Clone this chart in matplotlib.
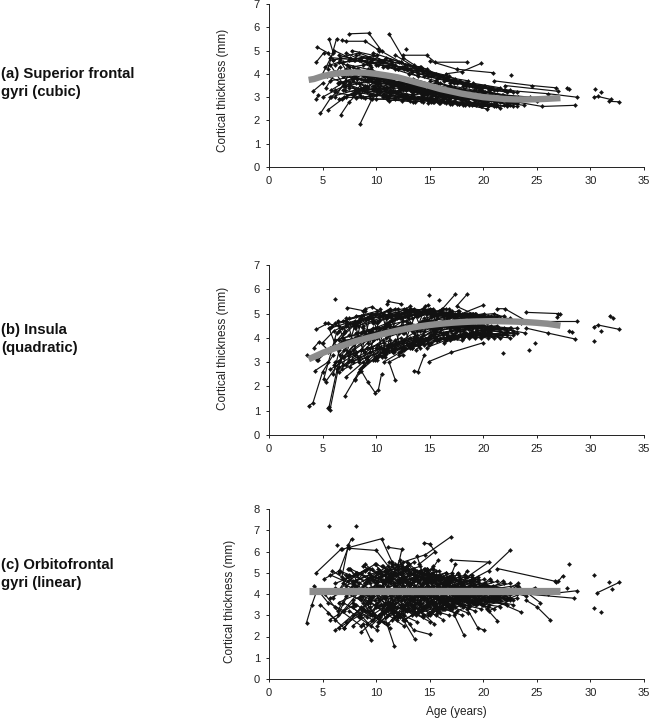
import matplotlib
matplotlib.use("Agg")
import matplotlib.pyplot as plt

plt.rcParams['font.family'] = ['Liberation Sans', 'DejaVu Sans']

panel_titles = ["(a) Superior frontal\ngyri (cubic)", "(b) Insula\n(quadratic)", "(c) Orbitofrontal\ngyri (linear)"]
y_label = "Cortical thickness (mm)"
x_label = "Age (years)"
x_ticks = [0, 5, 10, 15, 20, 25, 30, 35]

# ---------- (a) superior frontal: one row per subject ----------
sup_ages = [
 [7.5,9.3,10.5],[11.2,12.5,13.5],[5.6,6.0,5.0],[6.3,5.5],[6.8,7.2,9.0,10.3],[4.5,5.5,6.0],[4.4,5.1],[12.8],
 [12.5,14.7,15.5,18.5],[19.8,18.0,16.5],[15.0,17.5,20.9],[22.6],[21.0,24.5,26.8],[27.8,28.0],[27.0,22.0],
 [28.7,26.0,22.0],[28.6,25.5,23.0],[20.3,17.0,13.0],[30.4],[31.0],[30.3,30.7,31.9],[31.7,32.7],
 [8.5,9.6,10.0],[4.8,5.8,7.0],[6.7,7.5,9.0],[5.5,6.8,8.0],[4.1,5.0],[4.4,4.6],
 [5.2,6.5,8.2],[5.8,7.2,9.1],[6.1,7.9,10.2],[6.6,8.4,10.6],[7.0,8.8,11.2],[7.3,9.2,11.5],[7.7,9.7,12.0],
 [8.1,10.1,12.4],[8.6,10.5,12.9],[9.0,11.0,13.4],[9.4,11.5,13.9],[9.8,11.9,14.3],[10.2,12.3,14.7],
 [10.6,12.7,15.1],[11.0,13.1,15.6],[11.4,13.5,16.0],[11.8,13.9,16.4],[12.2,14.3,16.8],[12.6,14.8,17.3],
 [13.0,15.2,17.7],[13.4,15.6,18.1],[13.8,16.0,18.6],[14.2,16.5,19.0],[14.6,16.9,19.4],[15.0,17.3,19.9],
 [15.5,17.8,20.3],[16.0,18.2,20.8],[16.4,18.7,21.2],[16.9,19.1,21.7],[17.4,19.6,22.2],[17.9,20.1,22.7],
 [18.4,20.6,23.2],[19.0,21.2,23.8],[19.6,21.8,24.4],[20.2,22.4,25.0],[5.4,7.0,8.9],[6.0,7.6,9.5],
 [6.4,8.2,10.0],[7.1,8.9,10.9],[7.6,9.4,11.7],[8.3,10.3,12.6],[8.9,10.9,13.2],[9.5,11.6,13.7],[10.1,12.1,14.4],
 [10.8,12.9,15.3],[11.6,13.7,16.2],[12.3,14.5,17.0],[13.2,15.3,17.9],[14.0,16.2,18.7],[14.9,17.1,19.6],
 [10.4,12.5,14.9],[11.3,13.3,15.8],[12.0,14.1,16.6],[12.8,15.0,17.5],[13.6,15.8,18.3],[14.4,16.7,19.2],
 [15.2,17.5,20.0],[16.2,18.4,21.0],[9.2,11.3,13.3],[9.9,11.8,14.1],[5.0,6.2,7.6],[6.9,8.5,9.9],
 # denser part under the fitted curve and steeper early visits
 [5.3,6.6],[5.7,7.0],[6.2,7.5],[6.6,7.8],[7.1,8.3],[7.5,8.6],[8.0,9.2],[8.5,9.8],[9.1,10.4],[9.6,10.9],
 [10.2,11.8],[10.7,12.2],[11.2,12.8],[11.6,13.2],[12.1,13.8],[12.5,14.2],[13.0,14.7],[13.4,15.1],[13.9,15.6],[14.3,16.0],
 [14.8,16.5],[15.2,16.9],[15.7,17.4],[16.1,17.8],[16.6,18.3],[11.4,12.9],[12.2,13.7],[12.9,14.4],[13.7,15.2],[14.5,16.0],
 [15.3,16.8],[16.1,17.6],[16.9,18.4],[17.7,19.2],[18.5,20.0],
]
sup_values = [
 [5.72,5.75,5.0],[5.72,4.7,4.4],[5.5,4.9,4.0],[5.5,4.2],[5.45,5.4,5.4,5.0],[5.15,4.9,4.6],[4.5,4.9],[5.05],
 [4.8,4.8,4.5,4.5],[4.45,4.1,4.0],[4.55,4.2,4.05],[3.95],[3.7,3.5,3.4],[3.4,3.33],[3.25,3.5],
 [3.0,3.15,3.3],[2.65,2.6,2.8],[2.5,2.8,3.0],[3.35],[3.2],[3.0,3.03,2.9],[2.82,2.8],
 [1.85,2.9,3.1],[2.3,3.0,3.5],[2.25,2.8,3.5],[2.45,2.9,3.2],[3.25,3.6],[2.9,3.1],
 [4.3,4.5,4.2],[3.3,3.7,3.5],[5.0,4.6,4.4],[4.7,4.9,4.5],[3.0,3.4,3.2],[4.4,4.2,3.9],[5.0,4.8,4.2],
 [3.6,3.3,3.1],[4.7,4.5,4.2],[2.95,2.9,2.8],[4.5,4.4,3.9],[3.5,3.2,3.0],[5.05,4.5,4.0],
 [3.1,3.0,2.8],[4.3,4.0,3.7],[3.5,3.3,3.1],[4.8,4.2,3.8],[3.3,3.2,2.9],[4.2,3.9,3.6],
 [3.0,2.9,2.7],[3.8,3.5,3.3],[3.4,3.1,2.8],[4.3,3.8,3.5],[3.2,3.0,2.7],[3.7,3.4,3.2],
 [3.4,3.1,2.8],[3.6,3.3,3.1],[3.0,2.8,2.6],[3.5,3.3,3.1],[3.1,2.9,2.7],[3.3,3.1,2.9],
 [3.5,3.2,3.0],[3.0,2.8,2.65],[3.3,3.1,3.0],[3.2,3.0,2.85],[3.9,3.6,3.3],[4.6,4.7,4.3],
 [3.6,3.8,3.6],[3.5,3.3,3.4],[4.1,3.9,3.6],[3.2,3.4,3.0],[3.9,3.6,3.3],[4.2,3.7,3.5],[3.3,3.5,3.1],
 [3.8,3.5,3.4],[3.4,3.3,2.9],[3.6,3.5,3.0],[3.5,3.2,2.9],[3.5,3.3,3.0],[3.4,3.2,2.95],
 [3.2,3.6,3.3],[3.3,3.1,3.2],[3.6,3.2,3.4],[3.3,3.5,3.1],[3.5,3.6,3.2],[3.1,3.3,3.0],
 [3.3,3.1,2.75],[3.2,3.0,2.7],[3.8,3.1,3.4],[3.4,3.6,3.2],[3.0,3.3,3.6],[3.9,3.1,3.7],
 [3.4,4.3],[4.4,3.5],[3.0,4.0],[4.6,3.7],[3.3,4.2],[4.3,3.4],[3.2,3.9],[4.1,3.3],[3.4,3.8],[3.9,3.3],
 [3.55,3.25],[3.4,3.65],[3.7,3.3],[3.2,3.5],[3.6,3.2],[3.3,3.55],[3.5,3.1],[3.15,3.4],[3.45,3.05],[3.1,3.35],
 [3.35,3.0],[3.05,3.25],[3.25,2.95],[3.0,3.2],[3.15,2.9],[3.75,3.4],[3.65,3.35],[3.55,3.3],[3.45,3.2],[3.35,3.1],
 [3.25,3.05],[3.15,3.0],[3.1,2.9],[3.05,2.85],[2.95,2.8],
]
sup_fit_ages = [3.7, 4.2, 5, 6, 7, 8, 9, 10, 11, 12, 13, 14, 15, 16, 17, 18, 19, 20, 21, 22, 23, 24, 25, 26, 27.2]
sup_fit_values = [3.74, 3.78, 3.9, 4.0, 4.04, 4.06, 4.05, 4.0, 3.93, 3.85, 3.73, 3.6, 3.48, 3.35, 3.25, 3.15, 3.07, 3.0, 2.96, 2.92, 2.9, 2.9, 2.91, 2.93, 2.96]

# short visits between the outlined subjects; each start/end pair of ages is shared by three value rows
band_ages = [
 [5.7,8.0],[6.2,8.6],[6.5,9.1],[6.9,9.6],[7.2,9.4],[7.5,10.1],[7.8,10.4],[8.1,10.7],[8.4,11.1],[8.8,11.3],
 [9.1,11.8],[9.4,12.0],[9.7,12.3],[10.0,12.6],[10.3,12.9],[10.6,13.2],[10.9,13.5],[11.2,13.8],[11.5,14.1],[11.8,14.4],
 [12.1,14.7],[12.4,15.0],[12.7,15.3],[13.0,15.6],[13.3,15.9],[13.6,16.2],[13.9,16.5],[14.2,16.8],[14.5,17.1],[14.8,17.4],
 [15.1,17.7],[15.4,18.0],[15.7,18.3],[16.0,18.6],[16.3,18.9],[16.6,19.2],[16.9,19.5],[17.2,19.8],[17.5,20.1],[17.8,20.4],
 [18.1,20.7],[18.4,21.0],[18.7,21.3],[19.0,21.6],[19.3,21.9],[19.6,22.2],[19.9,22.5],[20.2,22.8],[20.5,23.1],
]
sup_band_hi = [
 [4.7,4.6],[4.4,4.7],[4.8,4.5],[4.5,4.6],[4.9,4.4],[4.6,4.8],[4.3,4.5],[4.8,4.6],[4.6,4.3],[4.4,4.6],
 [4.7,4.4],[4.5,4.2],[4.9,4.5],[4.4,4.3],[4.6,4.4],[4.3,4.2],[4.7,4.3],[4.4,4.1],[4.5,4.3],[4.2,4.1],
 [4.5,4.2],[4.3,4.1],[4.4,4.0],[4.2,4.0],[4.1,3.9],[4.3,3.9],[4.0,3.8],[4.2,3.9],[3.9,3.7],[4.1,3.8],
 [3.9,3.7],[4.0,3.6],[3.8,3.6],[3.9,3.7],[3.7,3.5],[3.8,3.5],[3.6,3.5],[3.7,3.4],[3.6,3.5],[3.7,3.4],
 [3.5,3.4],[3.6,3.3],[3.5,3.3],[3.6,3.4],[3.4,3.3],[3.5,3.2],[3.4,3.3],[3.5,3.2],[3.3,3.2],
]
sup_band_mid = [
 [3.7,3.9],[4.1,3.8],[3.6,4.0],[3.9,3.7],[4.2,3.9],[3.5,3.8],[3.8,3.6],[4.0,3.8],[3.6,3.7],[3.9,3.6],
 [3.7,3.9],[3.8,3.5],[3.5,3.7],[3.9,3.6],[3.6,3.4],[3.8,3.5],[3.4,3.6],[3.7,3.4],[3.5,3.3],[3.6,3.4],
 [3.3,3.5],[3.5,3.2],[3.4,3.3],[3.5,3.2],[3.2,3.3],[3.4,3.1],[3.3,3.2],[3.4,3.1],[3.1,3.2],[3.3,3.0],
 [3.2,3.1],[3.3,3.0],[3.0,3.1],[3.2,2.95],[3.1,3.0],[3.2,2.9],[3.0,3.0],[3.1,2.85],[3.0,2.95],[3.1,2.9],
 [2.95,2.9],[3.05,2.85],[2.95,2.85],[3.0,2.8],[2.9,2.9],[3.0,2.8],[2.9,2.85],[2.95,2.75],[2.9,2.75],
]
sup_band_lo = [
 [3.0,3.3],[3.2,3.0],[2.9,3.4],[3.3,3.1],[3.0,2.95],[3.4,3.2],[3.1,3.3],[2.95,3.1],[3.3,3.0],[3.0,3.2],
 [3.2,2.9],[3.1,3.0],[3.3,3.1],[2.9,3.0],[3.2,3.1],[3.0,2.85],[3.1,3.0],[2.85,2.95],[3.2,2.95],[3.0,2.8],
 [3.1,2.9],[2.85,3.0],[3.0,2.8],[2.9,2.95],[3.0,2.75],[2.8,2.9],[2.95,2.75],[2.85,2.9],[2.95,2.7],[2.75,2.85],
 [2.9,2.7],[2.8,2.8],[2.85,2.65],[2.75,2.8],[2.8,2.65],[2.85,2.7],[2.7,2.75],[2.8,2.6],[2.7,2.7],[2.75,2.6],
 [2.65,2.7],[2.75,2.6],[2.65,2.65],[2.7,2.55],[2.65,2.65],[2.7,2.6],[2.6,2.65],[2.7,2.6],[2.65,2.6],
]

# ---------- (b) insula ----------
ins_ages = [
 [3.7,4.1,5.0,6.0],[5.5,5.7,6.5,7.0],[5.6,6.5],[6.2],[3.5,4.5],[4.3,5.5],[4.2,4.7,5.5],[4.4,5.5],[5.2,6.5],
 [7.1,8.0,8.5],[8.0,8.6,9.2,9.9,10.2,10.5],[14.9,17.0,20.0],[21.8],[24.3],[24.8],[28.6,26.0,24.0],[28.7,24.0],
 [24.0,27.0],[27.2,26.9],[28.0,28.3],[30.3],[30.3,30.7,32.7],[31.0],[31.8,32.1],[14.9],[15.9],[11.0,11.1,12.3],
 [17.4,16.2],[18.5,17.5,19.0],[20.0,18.0],[21.3,22.0,24.0],[7.3,9.0],[9.0,9.6,11.0],[14.6,14.8,13.0],[13.2,11.0],
 [11.8,11.2,12.5],[13.5,13.9,14.5],
 [4.6,5.8,7.1],[5.0,6.1,7.6],[5.3,6.9,8.3],[5.9,7.2,8.8],[6.3,7.7,9.2],[6.6,8.1,9.7],[7.0,8.5,10.1],[7.4,9.0,10.6],
 [7.8,9.4,11.0],[8.2,9.9,11.5],[8.7,10.3,12.0],[9.1,10.8,12.5],[9.5,11.2,13.0],[9.9,11.7,13.5],[10.3,12.2,14.0],
 [10.7,12.6,14.5],[11.1,13.0,15.0],[11.5,13.5,15.5],[11.9,13.9,16.0],[12.3,14.4,16.5],[12.7,14.8,17.0],
 [13.1,15.3,17.5],[13.5,15.7,18.0],[13.9,16.2,18.5],[14.3,16.6,19.0],[14.7,17.1,19.5],[15.2,17.6,20.0],
 [15.7,18.1,20.6],[16.2,18.6,21.1],[16.8,19.2,21.7],[17.4,19.8,22.3],[18.0,20.4,22.9],[18.7,21.0,23.5],
 [6.1,7.4,9.0],[6.8,8.3,9.8],[7.6,9.2,10.9],[8.4,10.0,11.8],[9.3,11.0,12.7],[10.1,11.9,13.8],[10.9,12.8,14.7],
 [11.7,13.6,15.6],[12.5,14.5,16.6],[13.3,15.4,17.6],[14.1,16.3,18.7],[15.0,17.3,19.7],[16.0,18.3,20.9],
 [17.0,19.4,22.0],[5.5,7.0,8.6],[6.5,7.9,9.5],[7.2,8.8,10.4],[8.0,9.6,11.3],[8.9,10.6,12.3],[9.7,11.4,13.2],
 [10.5,12.4,14.2],[11.3,13.2,15.2],[12.1,14.0,16.1],[12.9,15.0,17.1],[13.7,15.8,18.2],[14.5,16.8,19.2],
 [15.5,17.8,20.3],[16.5,18.9,21.4],[17.7,20.0,22.6],[19.2,21.5,23.9],
 # steep early visits and criss-crossing in the dense part
 [5.1,6.3],[5.6,6.9],[6.0,7.2],[6.4,7.5],[6.8,8.0],[7.2,8.3],[7.6,8.7],[8.0,9.1],[8.4,9.5],[8.8,9.9],
 [9.2,10.4],[9.6,10.8],[10.0,11.2],[10.4,11.6],[10.8,12.0],[11.2,12.4],[11.6,12.8],[12.0,13.3],[12.4,13.7],[12.8,14.1],
 [13.2,14.5],[13.6,14.9],[14.0,15.3],[14.4,15.7],[14.8,16.1],[15.2,16.5],[15.6,16.9],[16.0,17.3],[16.4,17.7],[16.8,18.1],
 [17.2,18.5],[17.6,18.9],[18.0,19.3],[18.4,19.7],[18.8,20.1],
]
ins_values = [
 [1.2,1.32,2.6,3.3],[1.1,1.05,2.8,3.5],[1.15,3.0],[5.58],[3.28,3.1],[2.65,3.0],[3.6,3.85,3.5],[4.35,4.6],[4.6,4.5],
 [1.62,2.3,2.7],[2.25,2.65,2.2,1.75,1.85,2.5],[3.02,3.4,3.8],[3.38],[3.5],[3.8],[3.95,4.2,4.4],[4.7,4.7],
 [5.05,5.0],[5.0,4.85],[4.28,4.25],[3.87],[4.45,4.53,4.35],[4.3],[4.9,4.82],[5.75],[5.55],[5.4,5.5,5.4],
 [5.8,5.2],[5.8,5.3,5.0],[5.35,5.0],[5.2,5.2,4.7],[5.25,5.1],[5.2,5.28,4.9],[5.3,5.35,4.8],[5.3,4.8],
 [2.25,3.0,3.3],[2.65,2.6,3.3],
 [3.1,3.6,4.3],[3.8,4.3,4.6],[2.2,3.2,3.9],[4.5,4.7,4.4],[2.7,3.1,3.8],[3.3,4.0,4.4],[4.2,4.8,4.6],[3.0,3.4,3.9],
 [3.5,4.1,4.5],[4.6,5.0,4.8],[2.8,3.3,3.8],[3.6,4.2,4.7],[4.8,4.9,4.9],[3.2,3.7,4.2],[4.4,4.8,5.0],
 [3.0,3.5,3.9],[4.6,5.1,5.0],[3.6,4.0,4.4],[4.8,5.1,5.0],[3.4,3.8,4.2],[4.9,5.1,4.9],
 [3.7,4.1,4.3],[4.5,4.9,4.9],[3.9,4.2,4.5],[4.7,5.0,5.0],[3.6,4.0,4.2],[4.9,5.0,4.7],
 [3.9,4.1,4.3],[4.6,4.9,4.8],[4.0,4.2,4.1],[4.8,4.9,4.7],[4.1,4.3,4.2],[4.9,5.0,4.6],
 [2.9,3.4,4.2],[4.4,4.5,4.7],[3.4,3.9,4.5],[2.6,3.2,3.9],[4.3,4.6,4.9],[3.1,3.8,4.1],[4.5,4.7,5.0],
 [3.4,3.9,4.3],[4.2,4.6,4.9],[3.8,4.3,4.4],[4.3,4.7,4.6],[4.1,4.5,4.5],[4.4,4.5,4.4],
 [4.3,4.4,4.2],[3.4,3.9,4.0],[3.9,4.5,4.8],[2.4,3.0,3.6],[4.4,4.8,5.2],[2.9,3.6,4.0],[4.7,5.0,5.2],
 [3.2,3.6,4.0],[4.7,5.2,5.1],[3.3,3.9,4.6],[4.9,5.2,4.9],[3.5,4.4,4.6],[4.7,4.8,5.0],
 [4.2,4.3,4.6],[4.5,4.4,4.1],[4.6,4.5,4.4],[4.5,4.4,4.2],
 [2.3,4.2],[4.4,2.9],[2.5,4.6],[4.7,3.1],[2.7,4.5],[4.8,3.2],[2.8,4.9],[4.6,3.0],[3.0,5.0],[5.1,3.1],
 [3.1,4.9],[5.0,3.2],[3.2,5.1],[5.2,3.4],[3.3,5.0],[5.1,3.5],[3.4,5.2],[5.2,3.6],[3.5,5.0],[5.1,3.6],
 [3.6,5.2],[5.0,3.7],[3.7,5.1],[5.2,3.9],[3.8,5.2],[5.0,3.9],[3.9,5.1],[5.1,4.0],[3.9,5.0],[5.2,4.0],
 [4.0,5.0],[5.1,4.1],[4.1,5.0],[5.0,4.1],[4.2,4.9],
]
ins_fit_ages = [3.7, 4.5, 5, 6, 7, 8, 9, 10, 11, 12, 13, 14, 15, 16, 17, 18, 19, 20, 21, 22, 23, 24, 25, 26, 27.2]
ins_fit_values = [3.12, 3.28, 3.38, 3.55, 3.7, 3.85, 3.97, 4.08, 4.2, 4.3, 4.39, 4.47, 4.53, 4.58, 4.62, 4.65, 4.67, 4.68, 4.69, 4.68, 4.67, 4.65, 4.62, 4.58, 4.5]
ins_band_hi = [
 [4.4,4.7],[4.6,4.9],[4.3,4.8],[4.7,5.0],[4.5,4.9],[4.8,5.1],[4.6,4.9],[4.9,5.0],[4.7,5.1],[4.5,4.9],
 [4.8,5.2],[4.9,5.0],[4.6,5.0],[5.0,5.2],[4.7,5.1],[4.9,5.0],[4.8,5.2],[5.1,4.9],[4.7,5.0],[4.9,5.2],
 [5.0,5.1],[4.8,5.1],[5.1,5.2],[4.9,5.0],[4.8,5.1],[5.1,4.9],[4.9,5.2],[5.0,4.9],[4.8,5.1],[5.1,5.0],
 [4.9,5.1],[5.0,4.9],[4.8,5.0],[5.1,4.9],[4.9,5.0],[4.8,5.0],[5.0,4.9],[4.9,4.8],[4.8,5.0],[5.0,4.9],
 [4.8,4.9],[4.9,4.8],[4.8,4.9],[4.9,4.8],[4.7,4.9],[4.8,4.7],[4.7,4.8],[4.8,4.7],[4.7,4.7],
]
ins_band_mid = [
 [3.6,4.0],[3.9,4.2],[3.5,4.1],[4.0,4.3],[3.7,4.2],[4.1,4.0],[3.8,4.3],[4.2,4.4],[3.9,4.1],[4.3,4.5],
 [4.0,4.4],[4.2,4.3],[3.9,4.5],[4.4,4.2],[4.1,4.5],[4.3,4.6],[4.0,4.4],[4.5,4.3],[4.2,4.6],[4.4,4.5],
 [4.2,4.7],[4.5,4.4],[4.3,4.6],[4.6,4.4],[4.3,4.5],[4.5,4.7],[4.4,4.6],[4.6,4.5],[4.3,4.7],[4.5,4.4],
 [4.7,4.6],[4.4,4.5],[4.6,4.4],[4.4,4.6],[4.5,4.3],[4.7,4.5],[4.4,4.6],[4.6,4.4],[4.4,4.5],[4.6,4.4],
 [4.3,4.5],[4.5,4.4],[4.4,4.5],[4.5,4.3],[4.3,4.4],[4.5,4.3],[4.3,4.4],[4.4,4.3],[4.3,4.4],
]
ins_band_lo = [
 [2.7,3.3],[3.0,3.5],[2.6,3.2],[3.2,3.6],[2.9,3.4],[3.3,3.7],[3.0,3.6],[3.4,3.8],[3.1,3.5],[3.5,3.9],
 [3.2,3.7],[3.4,3.8],[3.1,3.6],[3.6,3.9],[3.3,3.8],[3.5,4.0],[3.4,3.7],[3.7,4.0],[3.5,3.9],[3.6,4.1],
 [3.4,3.9],[3.8,4.0],[3.6,4.1],[3.7,4.0],[3.6,3.9],[3.9,4.1],[3.7,4.2],[3.8,4.0],[3.7,4.1],[4.0,4.2],
 [3.8,4.1],[4.0,3.9],[3.9,4.2],[4.0,4.1],[3.8,4.2],[4.1,4.0],[3.9,4.2],[4.1,4.0],[4.0,4.2],[4.1,4.0],
 [4.0,4.2],[4.2,4.0],[4.0,4.1],[4.2,4.0],[4.1,4.2],[4.2,4.1],[4.1,4.0],[4.2,4.1],[4.1,4.2],
]

# ---------- (c) orbitofrontal ----------
orb_ages = [
 [5.6],[8.1],[6.3],[3.5,4.0,4.5],[7.7,7.4,6.8],[7.4,6.5],[6.8,10.5,11.5],[7.5,10.0,11.3],[4.4,6.7],
 [11.1,12.4,12.0],[14.5,15.0,15.5,14.0],[17.0,14.6,12.5],[17.0,20.5,18.5],[22.5,20.5,19.0],[21.3,26.7],
 [26.8,27.0,27.4],[28.0],[27.8],[28.7,26.0],[28.5,24.0],[26.2,25.0,24.0],[23.5,21.0],[21.3,20.5,22.5],
 [20.1,19.5,18.5],[18.2,17.3],[15.0,13.5,12.5],[13.6,12.5],[11.7,11.0,10.5],[9.5,8.8],[30.3],[30.3],[31.0],
 [30.6,32.7],[31.7],[32.0],
 [4.2,5.5,7.0],[4.8,6.2,7.8],[5.1,6.6,8.2],[5.5,7.0,8.6],[5.9,7.4,9.1],[6.2,7.8,9.5],[6.6,8.2,10.0],[7.0,8.6,10.4],
 [7.4,9.0,10.8],[7.8,9.5,11.2],[8.2,9.9,11.7],[8.6,10.3,12.1],[9.0,10.7,12.5],[9.4,11.1,12.9],[9.8,11.5,13.3],
 [10.1,11.9,13.7],[10.5,12.3,14.1],[10.9,12.7,14.5],[11.3,13.1,14.9],[11.7,13.5,15.4],[12.1,13.9,15.8],
 [12.5,14.3,16.2],[12.9,14.7,16.7],[13.3,15.1,17.1],[13.7,15.6,17.6],[14.1,16.0,18.0],[14.5,16.4,18.5],
 [14.9,16.9,19.0],[15.4,17.4,19.5],[15.9,17.9,20.0],[16.4,18.4,20.6],[16.9,19.0,21.2],[17.5,19.6,21.8],
 [18.1,20.2,22.4],[18.8,21.0,23.2],[19.5,21.7,24.0],[20.2,22.5,24.8],[21.0,23.2,25.3],
 [6.0,7.5,9.3],[6.9,8.4,10.2],[7.6,9.2,11.0],[8.4,10.1,11.9],[9.2,10.9,12.7],[9.9,11.7,13.5],[10.7,12.5,14.3],
 [11.5,13.3,15.1],[12.3,14.1,16.0],[13.1,15.0,16.9],[13.9,15.8,17.8],[14.7,16.7,18.8],[15.6,17.6,19.8],
 [16.6,18.7,20.9],[17.8,19.9,22.1],[19.2,21.4,23.6],[8.0,9.7,11.4],[8.8,10.5,12.2],[9.6,11.3,13.1],
 [10.3,12.1,13.9],[11.1,12.9,14.7],[11.9,13.7,15.6],[12.7,14.5,16.4],[13.5,15.4,17.3],[14.3,16.2,18.2],
 [15.1,17.1,19.2],[16.1,18.1,20.3],[17.2,19.3,21.5],[9.1,10.8,12.6],[10.0,11.8,13.6],[10.8,12.6,14.4],
 [11.6,13.4,15.3],[12.4,14.2,16.1],[13.2,15.2,17.0],[14.0,15.9,17.9],[14.8,16.8,18.9],
 [5.2,6.4,8.0],[6.4,7.7,9.0],[7.2,8.7,9.9],[8.5,9.3,10.3],[9.3,10.4,11.6],[10.2,11.4,12.8],[11.4,12.2,13.2],
 [12.6,13.6,14.6],[13.8,14.6,15.7],[15.3,16.3,17.4],
]
orb_values = [
 [7.18],[7.18],[6.3],[2.65,3.5,4.2],[6.6,6.3,4.8],[6.2,5.0],[6.1,6.6,5.5],[6.15,6.05,5.2],[5.0,6.1],
 [6.2,6.1,5.2],[6.4,6.35,6.0,5.4],[6.7,5.85,5.5],[5.6,5.5,4.8],[6.05,5.1,4.7],[5.2,4.6],
 [4.55,4.6,4.85],[5.42],[4.3],[4.15,4.0],[3.8,4.0],[2.8,3.4,3.7],[3.15,3.7],[2.75,3.2,3.7],
 [2.3,2.4,3.3],[2.05,3.0],[2.1,2.3,3.0],[1.88,2.8],[1.55,2.6,3.5],[1.85,2.6],[4.9],[3.35],[3.15],
 [4.05,4.55],[4.55],[4.25],
 [4.4,3.6,3.2],[3.5,2.8,3.6],[4.7,5.1,4.4],[3.1,2.4,3.4],[5.1,4.6,5.2],[2.3,3.0,3.7],[4.2,5.0,4.5],[2.4,3.3,2.9],
 [5.2,4.5,4.9],[3.4,2.5,3.3],[4.9,5.4,4.3],[2.2,3.0,3.9],[5.4,4.6,5.0],[3.0,2.6,3.5],[4.3,5.3,4.5],
 [2.5,3.4,3.0],[5.3,4.7,5.1],[3.6,2.8,3.4],[4.5,5.4,4.6],[2.9,3.5,2.6],[5.0,4.2,5.6],
 [3.3,4.8,3.7],[5.5,4.1,4.7],[3.5,4.9,3.3],[4.8,3.4,5.0],[3.7,4.9,3.5],[4.6,3.6,5.1],
 [3.5,4.7,3.6],[4.9,3.8,4.6],[3.7,4.5,3.5],[4.6,3.9,4.7],[3.4,4.4,3.9],[4.4,3.9,4.6],
 [3.9,4.5,3.8],[4.6,3.8,4.5],[3.6,4.2,3.9],[4.4,3.8,4.3],[3.7,4.4,3.6],
 [3.8,4.9,3.2],[3.2,4.1,5.0],[5.2,3.6,4.6],[3.0,4.4,3.8],[4.7,3.2,5.2],[3.7,5.0,3.2],[3.1,4.6,4.0],
 [5.4,3.7,4.9],[3.5,5.1,3.1],[4.4,3.0,4.8],[3.2,4.7,4.0],[5.2,3.4,4.4],[3.3,4.3,3.6],
 [4.6,3.5,4.4],[3.5,4.3,3.7],[4.3,3.8,4.2],[4.4,3.1,4.7],[3.6,4.9,2.9],[4.8,3.3,5.0],
 [3.0,4.5,3.9],[5.0,3.5,4.4],[2.8,4.0,5.1],[4.0,5.2,3.3],[4.9,3.6,4.2],[3.2,4.8,3.5],
 [4.5,3.4,4.7],[3.4,4.5,3.3],[4.8,3.7,4.2],[2.9,3.9,4.6],[4.1,2.9,4.4],[5.1,3.9,3.0],
 [3.4,4.2,5.3],[5.3,4.0,3.3],[3.8,5.0,4.1],[4.1,3.2,4.3],[3.0,4.1,4.9],
 [4.0,3.2,4.6],[3.0,4.3,5.1],[4.9,3.9,3.0],[2.9,3.7,4.4],[3.9,4.8,3.1],[2.7,3.5,4.7],[4.7,5.6,3.8],
 [3.0,3.9,5.2],[5.8,4.6,3.1],[3.2,4.0,5.4],
]
orb_fit_ages = [3.7, 10, 15, 20, 27.2]
orb_fit_values = [4.12, 4.12, 4.12, 4.12, 4.12]
orb_band_hi = [
 [4.9,4.4],[4.5,5.0],[5.1,4.6],[4.7,5.2],[4.4,4.9],[5.2,4.6],[4.6,5.1],[5.0,4.5],[4.5,5.3],[5.3,4.7],
 [4.7,5.2],[5.2,4.6],[4.6,5.4],[5.4,4.8],[4.8,5.3],[5.3,4.7],[4.7,5.5],[5.5,4.8],[4.9,5.3],[5.4,4.7],
 [4.7,5.2],[5.3,4.6],[4.6,5.2],[5.2,4.7],[4.7,5.1],[5.1,4.5],[4.6,5.0],[5.0,4.5],[4.5,5.0],[5.0,4.4],
 [4.6,4.9],[4.9,4.4],[4.4,4.9],[4.8,4.3],[4.4,4.8],[4.8,4.3],[4.3,4.8],[4.7,4.3],[4.3,4.7],[4.7,4.3],
 [4.3,4.6],[4.6,4.2],[4.2,4.6],[4.6,4.2],[4.2,4.5],[4.5,4.2],[4.2,4.5],[4.4,4.2],[4.2,4.4],
]
orb_band_mid = [
 [3.8,4.4],[4.3,3.7],[3.6,4.2],[4.5,3.8],[3.9,4.5],[4.2,3.6],[3.7,4.4],[4.6,3.9],[3.8,4.3],[4.4,3.6],
 [3.6,4.5],[4.3,3.8],[3.9,4.6],[4.5,3.7],[3.7,4.2],[4.2,3.9],[3.8,4.6],[4.6,3.7],[3.6,4.3],[4.4,3.8],
 [3.9,4.5],[4.3,3.6],[3.7,4.4],[4.5,3.9],[3.8,4.2],[4.2,3.7],[3.6,4.4],[4.4,3.8],[3.9,4.3],[4.3,3.7],
 [3.7,4.2],[4.2,3.8],[3.8,4.3],[4.3,3.7],[3.7,4.2],[4.1,3.8],[3.8,4.3],[4.2,3.7],[3.7,4.1],[4.1,3.8],
 [3.8,4.2],[4.2,3.8],[3.8,4.1],[4.0,3.7],[3.7,4.1],[4.1,3.8],[3.8,4.0],[4.0,3.7],[3.7,4.0],
]
orb_band_lo = [
 [2.8,3.5],[3.4,2.5],[2.4,3.2],[3.6,2.8],[2.7,3.4],[3.2,2.3],[2.5,3.5],[3.5,2.7],[2.9,3.6],[3.3,2.4],
 [2.6,3.4],[3.6,2.9],[2.8,3.5],[3.4,2.5],[2.7,3.6],[3.5,2.6],[2.9,3.4],[3.3,2.7],[2.8,3.6],[3.6,2.9],
 [3.0,3.5],[3.4,2.7],[2.8,3.6],[3.5,3.0],[3.0,3.6],[3.6,2.8],[3.1,3.5],[3.4,3.0],[3.0,3.7],[3.6,3.1],
 [3.1,3.6],[3.5,3.0],[3.2,3.7],[3.6,3.1],[3.3,3.7],[3.7,3.2],[3.3,3.7],[3.6,3.3],[3.2,3.7],[3.7,3.4],
 [3.4,3.8],[3.7,3.3],[3.4,3.7],[3.6,3.4],[3.5,3.8],[3.7,3.5],[3.5,3.8],[3.7,3.5],[3.5,3.8],
]
orb_core_ages = [
 [9.0,10.8],[9.3,11.1],[9.6,11.4],[9.9,11.7],[10.2,12.0],[10.5,12.3],[10.8,12.6],[11.1,12.9],[11.4,13.2],[11.7,13.5],
 [12.0,13.8],[12.3,14.1],[12.6,14.4],[12.9,14.7],[13.2,15.0],[13.5,15.3],[13.8,15.6],[14.1,15.9],[14.4,16.2],[14.7,16.5],
 [15.0,16.8],[15.3,17.1],[15.6,17.4],[15.9,17.7],[16.2,18.0],[16.5,18.3],[16.8,18.6],[17.1,18.9],[17.4,19.2],[17.7,19.5],
]
orb_core_hi = [
 [4.5,5.1],[5.0,4.4],[4.3,4.9],[4.8,4.5],[5.2,4.6],[4.4,5.0],[5.1,4.4],[4.6,5.3],[5.0,4.5],[4.5,5.2],
 [5.3,4.6],[4.7,5.0],[5.2,4.5],[4.5,5.1],[5.0,4.7],[4.6,5.2],[5.1,4.5],[4.7,4.9],[5.0,4.4],[4.5,5.0],
 [4.9,4.5],[4.6,4.9],[4.9,4.4],[4.4,4.8],[4.8,4.5],[4.5,4.8],[4.8,4.3],[4.4,4.7],[4.7,4.4],[4.5,4.7],
]
orb_core_lo = [
 [3.2,3.8],[3.7,3.0],[3.0,3.6],[3.5,3.2],[3.8,3.1],[3.1,3.7],[3.6,3.3],[3.3,3.9],[3.8,3.2],[3.2,3.7],
 [3.7,3.1],[3.4,3.9],[3.9,3.3],[3.2,3.8],[3.7,3.4],[3.3,3.9],[3.9,3.4],[3.5,3.8],[3.8,3.3],[3.4,3.9],
 [3.9,3.5],[3.5,3.8],[3.8,3.4],[3.4,3.9],[3.8,3.5],[3.5,3.8],[3.8,3.6],[3.5,3.9],[3.9,3.6],[3.6,3.8],
]


def px_axes(fig, left, right, top, bottom):
    W, H = 650, 720
    return fig.add_axes([left / W, 1 - bottom / H, (right - left) / W, (bottom - top) / H])


def draw(ax, ages, values, fit_x, fit_y, ymax, lw_fit):
    for xs, ys in zip(ages, values):
        ax.plot(xs, ys, color="#111111", lw=0.85, marker="D", ms=2.2, mfc="#111111", mec="#111111", mew=0.2,
                solid_joinstyle="round", zorder=2)
    ax.plot(fit_x, fit_y, color="#8c8c8c", lw=lw_fit, solid_capstyle="butt", solid_joinstyle="round", zorder=3)
    ax.set_xlim(0, 35)
    ax.set_ylim(0, ymax)
    ax.set_xticks(x_ticks)
    ax.set_yticks(range(0, ymax + 1))
    ax.spines["top"].set_visible(False)
    ax.spines["right"].set_visible(False)
    for s in ("left", "bottom"):
        ax.spines[s].set_linewidth(0.7)
        ax.spines[s].set_color("#222222")
    ax.tick_params(length=2.5, width=0.7, labelsize=8, pad=4, colors="#222222")


fig = plt.figure(figsize=(6.5, 7.2), dpi=100)
ax_a = px_axes(fig, 269, 644, 4, 167)
draw(ax_a, sup_ages + band_ages * 3, sup_values + sup_band_hi + sup_band_mid + sup_band_lo,
     sup_fit_ages, sup_fit_values, 7, 4.6)
ax_b = px_axes(fig, 269, 644, 265, 435)
draw(ax_b, ins_ages + band_ages * 3, ins_values + ins_band_hi + ins_band_mid + ins_band_lo,
     ins_fit_ages, ins_fit_values, 7, 4.6)
ax_c = px_axes(fig, 269, 644, 509, 679)
draw(ax_c, orb_ages + band_ages * 3 + orb_core_ages * 2,
     orb_values + orb_band_hi + orb_band_mid + orb_band_lo + orb_core_hi + orb_core_lo,
     orb_fit_ages, orb_fit_values, 8, 5.2)
ax_c.set_xlabel(x_label, fontsize=8.5, labelpad=6, color="#222222")

for label_x, label_y in ((223, 90), (223, 348), (230, 601)):
    fig.text(label_x / 650, 1 - label_y / 720, y_label, rotation=90, fontsize=8.5, va="center", ha="center",
             color="#222222")

for title, y in zip(panel_titles, (83, 339, 574)):
    fig.text(1 / 650, 1 - y / 720, title, fontsize=10.7, fontweight="bold", va="center", ha="left",
             linespacing=1.35, color="#111111")

fig.savefig("out.png", dpi=100)
